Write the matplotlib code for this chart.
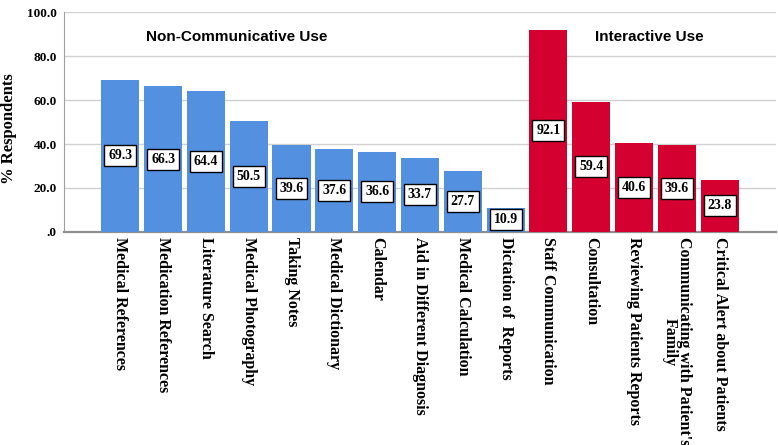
import numpy as np
import matplotlib
matplotlib.use('Agg')
from matplotlib import pyplot as plt

# uses of the device, % respondents
categories = ['Medical References', 'Medication References', 'Literature Search',
              'Medical Photography', 'Taking Notes', 'Medical Dictionary', 'Calendar',
              'Aid in Different Diagnosis', 'Medical Calculation', 'Dictation of  Reports',
              'Staff Communication', 'Consultation', 'Reviewing Patients Reports',
              "Communicating with Patient's\nFamily", 'Critical Alert about Patients']
values = [69.3, 66.3, 64.4, 50.5, 39.6, 37.6, 36.6, 33.7, 27.7, 10.9,
          92.1, 59.4, 40.6, 39.6, 23.8]
groups = ['Non-Communicative'] * 10 + ['Interactive'] * 5
y_ticks = [0, 20, 40, 60, 80, 100]
y_tick_labels = ['.0', '20.0', '40.0', '60.0', '80.0', '100.0']

colors = {'Non-Communicative': '#5390E0', 'Interactive': '#D40030'}
serif = ['Liberation Serif', 'DejaVu Serif']
sans = ['Liberation Sans', 'DejaVu Sans']

fig = plt.figure(figsize=(7.78, 4.45), dpi=100)
ax = fig.add_axes([0.082, 0.479, 0.915, 0.493])

x = np.arange(len(categories))
ax.bar(x, values, width=0.89, color=[colors[g] for g in groups], zorder=3)

for xi, v in zip(x, values):
    ax.text(xi, v / 2, '%.1f' % v, ha='center', va='center', fontsize=10,
            fontweight='bold', family=serif, zorder=4,
            bbox=dict(boxstyle='square,pad=0.28', fc='white', ec='black', lw=1.0))

ax.set_xlim(-1.32, 15.31)
ax.set_ylim(0, 100)
ax.set_yticks(y_ticks)
ax.set_yticklabels(y_tick_labels, fontsize=9.5, fontweight='bold', family=serif)
ax.set_xticks(x)
ax.set_xticklabels(categories, rotation=270, ha='center', va='top', fontsize=11.5,
                   fontweight='bold', family=serif, linespacing=0.9)
ax.tick_params(axis='both', length=0, pad=4)
ax.tick_params(axis='y', pad=5)
fig.text(9 / 778, 0.712, '% Respondents', rotation=90, ha='center', va='center',
         fontsize=12, fontweight='bold', family=serif)

ax.grid(axis='y', color='#d0d0d0', lw=1, zorder=0)
ax.set_axisbelow(True)
for s in ['top', 'right']:
    ax.spines[s].set_visible(False)
ax.spines['left'].set_color('#a0a0a0')
ax.spines['bottom'].set_color('#909090')
ax.spines['bottom'].set_linewidth(1.6)

ax.text(2.72, 89, 'Non-Communicative Use', ha='center', va='center', fontsize=11,
        fontweight='bold', family=sans)
ax.text(12.35, 89, 'Interactive Use', ha='center', va='center', fontsize=11,
        fontweight='bold', family=sans)

fig.savefig('out.png', dpi=100)
